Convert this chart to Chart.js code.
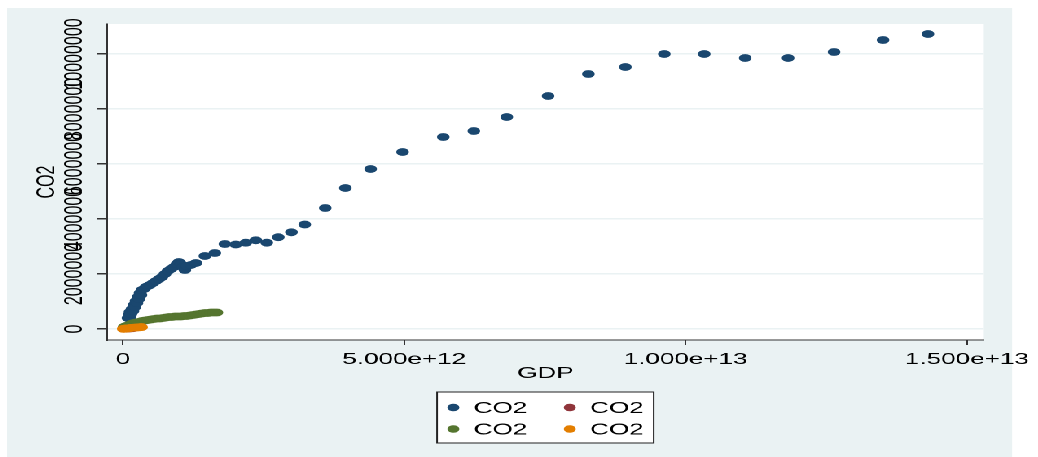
<!DOCTYPE html>
<html>
<head>
<meta charset="utf-8">
<script src="https://cdn.jsdelivr.net/npm/chart.js@4.4.1/dist/chart.umd.min.js"></script>
<style>
  html, body { margin: 0; padding: 0; background: #fff; overflow: hidden; }
  /* the reference is a Stata graph stretched sideways, so draw narrow and stretch */
  #frame {
    position: absolute; left: 7px; top: 8px;
    width: 633px; height: 449px;
    background: linear-gradient(to right, #eaf2f3 617px, #fff 617px);
    transform: scaleX(1.6288); transform-origin: 0 0;
  }
</style>
</head>
<body>
<div id="frame"><canvas id="co2Chart"></canvas></div>
<script>
const xTickValues = [0, 5e12, 1e13, 1.5e13];
const xTickLabels = ['0', '5.000e+12', '1.000e+13', '1.500e+13'];
const yTickValues = [0, 2e6, 4e6, 6e6, 8e6, 1e7];
const yTickLabels = ['0', '2000000', '4000000', '6000000', '8000000', '10000000'];

const seriesLabels = ['CO2', 'CO2', 'CO2', 'CO2'];
const seriesColors = ['#1a476f', '#90353b', '#55752f', '#e37e00'];

// GDP in trillions, CO2 in millions
const gdp1 = [0.089, 0.107, 0.124, 0.124, 0.142, 0.160, 0.178, 0.195, 0.213, 0.231, 0.249, 0.266, 0.284, 0.302, 0.320, 0.337,
    0.373, 0.408, 0.444, 0.479, 0.533, 0.586, 0.639, 0.692, 0.746, 0.799, 0.852, 0.905, 0.959, 0.994, 1.030, 1.065,
    1.101, 1.136, 1.207, 1.296, 1.456, 1.633, 1.811, 2.006, 2.183, 2.361, 2.556, 2.760, 2.994, 3.231, 3.595,
    3.953, 4.402, 4.970, 5.693, 6.236, 6.822, 7.556, 8.272, 8.929, 9.621, 10.331, 11.059, 11.822, 12.639, 13.509, 14.308];
const co2_1 = [0.400, 0.509, 0.436, 0.618, 0.545, 0.727, 0.655, 0.873, 0.800, 1.018, 0.945, 1.164, 1.091, 1.309, 1.236, 1.418,
    1.455, 1.527, 1.564, 1.600, 1.673, 1.745, 1.818, 1.891, 2.000, 2.109, 2.182, 2.255, 2.364, 2.436, 2.364, 2.255,
    2.145, 2.291, 2.327, 2.400, 2.655, 2.764, 3.091, 3.073, 3.138, 3.225, 3.138, 3.338, 3.516, 3.800, 4.400,
    5.127, 5.818, 6.436, 6.982, 7.200, 7.709, 8.473, 9.273, 9.527, 10.000, 10.000, 9.855, 9.855, 10.073, 10.509, 10.727];

const gdp2 = [0.06, 0.12, 0.18];
const co2_2 = [0.01, 0.02, 0.03];

const gdp3 = [0.018, 0.053, 0.089, 0.124, 0.160, 0.195, 0.231, 0.284, 0.337, 0.391, 0.444, 0.497, 0.550, 0.604, 0.657, 0.710,
    0.763, 0.817, 0.870, 0.923, 0.976, 1.030, 1.083, 1.136, 1.189, 1.243, 1.296, 1.349, 1.402, 1.456, 1.509, 1.562, 1.615, 1.669];
const co2_3 = [0.073, 0.109, 0.127, 0.164, 0.200, 0.218, 0.236, 0.255, 0.291, 0.309, 0.327, 0.345, 0.364, 0.382, 0.382, 0.400,
    0.418, 0.436, 0.436, 0.455, 0.455, 0.455, 0.473, 0.473, 0.491, 0.509, 0.527, 0.545, 0.564, 0.582, 0.582, 0.600, 0.600, 0.600];

const gdp4 = [0.005, 0.015, 0.03, 0.05, 0.07, 0.09, 0.11, 0.13, 0.15, 0.18, 0.21, 0.24, 0.27, 0.30, 0.33];
const co2_4 = [0.005, 0.008, 0.01, 0.015, 0.02, 0.025, 0.03, 0.035, 0.04, 0.045, 0.05, 0.055, 0.06, 0.065, 0.07];

function toPoints(gdp, co2) {
    return gdp.map((g, i) => ({ x: g * 1e12, y: co2[i] * 1e6 }));
}

const allGdp = [gdp1, gdp2, gdp3, gdp4];
const allCo2 = [co2_1, co2_2, co2_3, co2_4];

Chart.defaults.font.family = "'Liberation Sans', Arial, sans-serif";
Chart.defaults.font.size = 16;
Chart.defaults.color = '#000';

const plotBackground = {
    id: 'plotBackground',
    beforeDraw(chart) {
        const { ctx, chartArea: a } = chart;
        ctx.save();
        ctx.fillStyle = '#fff';
        ctx.fillRect(a.left, a.top, a.right - a.left, a.bottom - a.top);
        ctx.restore();
    }
};

// two-column legend box as Stata draws it
const stataLegend = {
    id: 'stataLegend',
    afterDraw(chart) {
        const { ctx, chartArea: a } = chart;
        const w = 133, h = 51;
        const left = (a.left + a.right) / 2 - w / 2;
        const top = chart.scales.x.bottom;
        ctx.save();
        ctx.fillStyle = '#fff';
        ctx.fillRect(left, top, w, h);
        ctx.strokeStyle = '#222';
        ctx.lineWidth = 1;
        ctx.strokeRect(left, top, w, h);
        ctx.font = "16px 'Liberation Sans', Arial, sans-serif";
        ctx.textBaseline = 'middle';
        chart.data.datasets.forEach((ds, i) => {
            const col = i % 2, row = Math.floor(i / 2);
            const cx = left + 10 + col * 71.5;
            const cy = top + 15.5 + row * 21.5;
            ctx.fillStyle = ds.backgroundColor;
            ctx.beginPath();
            ctx.arc(cx, cy, 3.7, 0, Math.PI * 2);
            ctx.fill();
            ctx.fillStyle = '#000';
            ctx.fillText(ds.label, cx + 12.5, cy + 1);
        });
        ctx.restore();
    }
};

new Chart(document.getElementById('co2Chart'), {
    type: 'scatter',
    data: {
        datasets: seriesLabels.map((label, i) => ({
            label: label,
            data: toPoints(allGdp[i], allCo2[i]),
            backgroundColor: seriesColors[i],
            borderWidth: 0,
            pointRadius: 3.9,
            pointHoverRadius: 3.9,
            order: 4 - i
        }))
    },
    options: {
        responsive: true,
        maintainAspectRatio: false,
        animation: false,
        devicePixelRatio: 2,
        layout: { padding: { left: 0, right: 32.6, top: 16, bottom: 65 } },
        plugins: {
            legend: { display: false },
            tooltip: { enabled: false }
        },
        scales: {
            x: {
                type: 'linear',
                min: -0.284e12,
                max: 15.30e12,
                afterBuildTicks: s => { s.ticks = xTickValues.map(v => ({ value: v })); },
                afterFit: s => { s.height = 52; },
                ticks: {
                    autoSkip: false,
                    maxRotation: 0,
                    padding: 5,
                    callback: (v, i) => xTickLabels[i]
                },
                grid: { drawOnChartArea: false, drawTicks: true, tickLength: 5, tickColor: '#333' },
                border: { display: true, color: '#333', width: 1 },
                title: { display: true, text: 'GDP', padding: { bottom: 9 } }
            },
            y: {
                type: 'linear',
                min: -0.4e6,
                max: 11.09e6,
                afterBuildTicks: s => { s.ticks = yTickValues.map(v => ({ value: v })); },
                afterFit: s => { s.width = 61.4; },
                ticks: {
                    autoSkip: false,
                    minRotation: 90,
                    maxRotation: 90,
                    crossAlign: 'center',
                    padding: -22,
                    callback: (v, i) => yTickLabels[i]
                },
                grid: { color: '#eaf2f3', lineWidth: 1.5, drawTicks: true, tickLength: 6, tickColor: '#333' },
                border: { display: true, color: '#333', width: 1 },
                title: { display: true, text: 'CO2', padding: { top: 15 } }
            }
        }
    },
    plugins: [plotBackground, stataLegend]
});
</script>
</body>
</html>
